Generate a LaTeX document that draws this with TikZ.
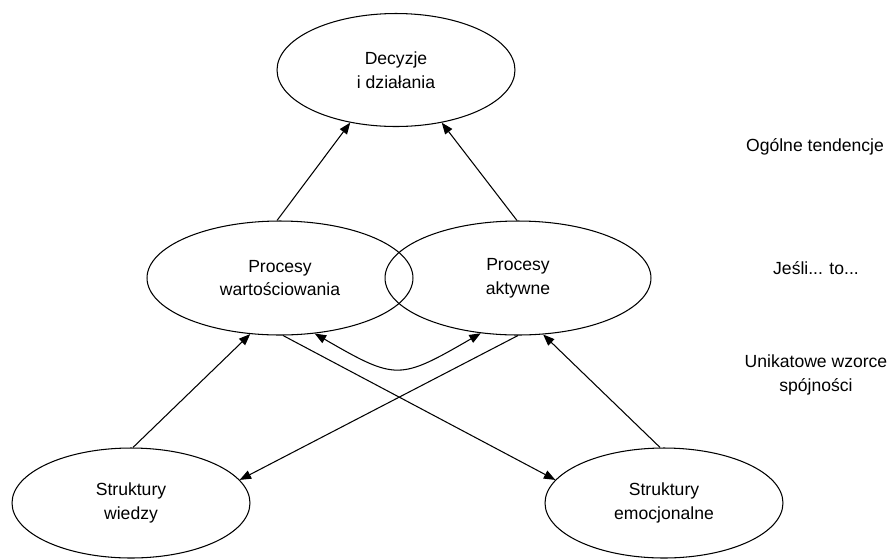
\documentclass[tikz,border=0pt]{standalone}
\usepackage{fontspec}
\setmainfont{Liberation Sans}
\usetikzlibrary{arrows.meta, shapes.geometric}

\begin{document}
\begin{tikzpicture}[x=0.02cm, y=-0.02cm,
    font=\fontsize{10}{13.5}\selectfont,
    blob/.style={draw, ellipse, line width=0.6pt, inner sep=0pt, align=center},
    arr/.style={line width=0.6pt, -{Triangle[length=6.5pt, width=5pt]}}]
  \useasboundingbox (0,0) rectangle (890,559);
  % Top: decisions
  \node[blob, minimum width=4.76cm, minimum height=2.26cm] (dec) at (396,70) {Decyzje\\i działania};
  % Middle row: processes
  \node[blob, minimum width=5.32cm, minimum height=2.28cm] (val) at (280,278) {Procesy\\wartościowania};
  \node[blob, minimum width=5.32cm, minimum height=2.28cm] (akt) at (518,278) {Procesy\\aktywne};
  % Bottom row: structures
  \node[blob, minimum width=4.76cm, minimum height=2.2cm] (wie) at (131,503) {Struktury\\wiedzy};
  \node[blob, minimum width=4.76cm, minimum height=2.2cm] (emo) at (664,503) {Struktury\\emocjonalne};
  % Level labels on the right
  \node (lvltop) at (815,147) {Ogólne tendencje};
  \node (lvlmid) at (816,268) {Jeśli... to...};
  \node[align=center] (lvlbot) at (816,375) {Unikatowe wzorce\\spójności};
  % Arrows up to decisions
  \draw[arr] (val.93) -- (dec.229);
  \draw[arr] (akt.91) -- (dec.311);
  % Arrows from structures up to processes
  \draw[arr] (wie.88) -- (val.242);
  \draw[arr] (emo.94) -- (akt.294);
  % Crossing arrows down to structures
  \draw[arr] (akt.270) -- (wie.12);
  \draw[arr] (val.273) -- (emo.168);
  % Link between the two processes
  \draw[arr, {Triangle[length=6.5pt, width=5pt]}-{Triangle[length=6.5pt, width=5pt]}]
    (val.302) to[out=-30, in=210, looseness=1.45] (akt.236);
\end{tikzpicture}
\end{document}
